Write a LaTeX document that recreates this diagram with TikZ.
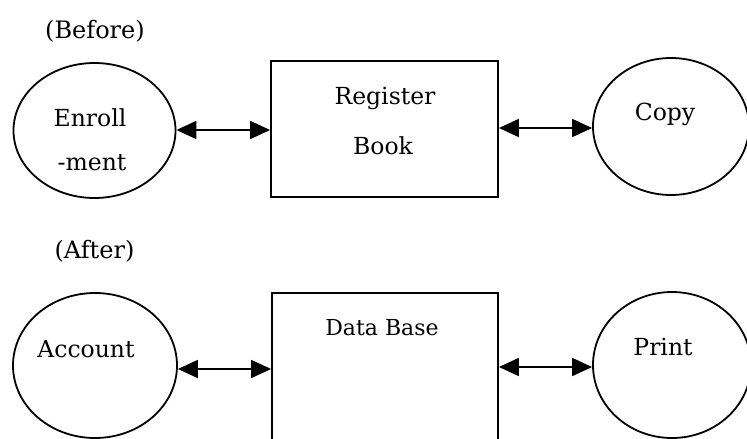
\documentclass[tikz,border=0pt]{standalone}
\usepackage{fontspec}
\setmainfont{DejaVu Serif}
\usetikzlibrary{arrows.meta,shapes.geometric}
\begin{document}
\begin{tikzpicture}[x=1pt,y=-1pt,
  line width=1.8pt,
  oval/.style={ellipse,draw,inner sep=0pt},
  boxnode/.style={rectangle,draw,inner sep=0pt},
  lbl/.style={anchor=base,inner sep=0pt,font=\fontsize{23.5}{28}\selectfont},
  small/.style={anchor=base,inner sep=0pt,font=\fontsize{22}{26}\selectfont},
  head/.style={anchor=base,inner sep=0pt,font=\fontsize{24}{28}\selectfont},
  link/.style={{Triangle[length=20pt,width=18pt]}-{Triangle[length=20pt,width=18pt]},line width=1.8pt}]
\useasboundingbox (0,0) rectangle (747,439);
\clip (0,0) rectangle (747,439);
\fill[white] (0,0) rectangle (747,439);

% Before
\node[head] (before) at (95,38) {(Before)};
\node[oval,minimum width=162pt,minimum height=135pt] (enr) at (94.5,130.5) {};
\node[boxnode,minimum width=227pt,minimum height=136pt] (reg) at (384.5,129) {};
\node[oval,minimum width=156pt,minimum height=137pt] (cop) at (671,126.5) {};
\node[lbl] (t1) at (90,126) {Enroll};
\node[lbl] (t2) at (92,170) {-ment};
\node[lbl] (t3) at (385,104) {Register};
\node[lbl] (t4) at (383,154) {Book};
\node[lbl] (t5) at (665,120) {Copy};
\draw[link] (enr.east |- 0,130) -- (reg.west |- 0,130);
\draw[link] (reg.east |- 0,128) -- (cop.west |- 0,128);

% After
\node[head] (after) at (94.5,258) {(After)};
\node[oval,minimum width=164pt,minimum height=145pt] (acc) at (95,365.5) {};
\node[boxnode,minimum width=226pt,minimum height=177pt] (db) at (385,381.5) {};
\node[oval,minimum width=158pt,minimum height=146pt] (prn) at (672,365) {};
\node[lbl] (t6) at (86,357) {Account};
\node[small] (t7) at (382,335) {Data Base};
\node[lbl] (t8) at (663,355) {Print};
\draw[link] (acc.east |- 0,369) -- (db.west |- 0,369);
\draw[link] (db.east |- 0,367) -- (prn.west |- 0,367);
\end{tikzpicture}
\end{document}
